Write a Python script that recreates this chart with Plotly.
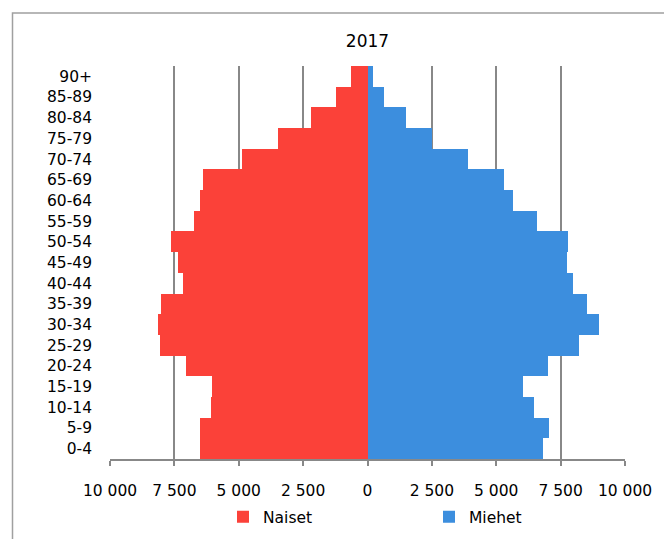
import plotly.graph_objects as go

age_groups = ["0-4", "5-9", "10-14", "15-19", "20-24", "25-29", "30-34", "35-39",
              "40-44", "45-49", "50-54", "55-59", "60-64", "65-69", "70-74",
              "75-79", "80-84", "85-89", "90+"]
naiset = [6500, 6500, 6090, 6030, 7050, 8060, 8120, 8010, 7180, 7350, 7640,
          6750, 6500, 6380, 4870, 3480, 2210, 1240, 640]
miehet = [6820, 7060, 6450, 6040, 7000, 8220, 9000, 8520, 7970, 7740, 7790,
          6570, 5660, 5300, 3910, 2520, 1480, 640, 210]
tick_vals = [-10000, -7500, -5000, -2500, 0, 2500, 5000, 7500, 10000]
tick_text = ["10 000", "7 500", "5 000", "2 500", "0", "2 500", "5 000", "7 500", "10 000"]
title_text = "2017"

FONT = "DejaVu Sans"
RED = "#FB4139"
BLUE = "#3C8EDE"
GRID = "#888888"

fig = go.Figure()
fig.add_trace(go.Bar(y=age_groups, x=[-v for v in naiset], orientation="h",
                     name="Naiset", marker=dict(color=RED, line=dict(width=0))))
fig.add_trace(go.Bar(y=age_groups, x=miehet, orientation="h",
                     name="Miehet", marker=dict(color=BLUE, line=dict(width=0))))

fig.update_layout(
    width=672, height=539,
    margin=dict(l=102, r=55, t=58, b=88),
    paper_bgcolor="white", plot_bgcolor="white",
    barmode="overlay", bargap=0,
    font=dict(family=FONT, size=15.5, color="#000000"),
    title=dict(text=title_text, x=0.5, xanchor="center", xref="paper",
               y=1 - 33 / 539, yanchor="middle", yref="container",
               font=dict(family=FONT, size=17, color="#000000")),
    showlegend=True,
    legend=dict(orientation="h", x=(223 - 110) / 515, xanchor="left", y=-0.148, yanchor="middle",
                entrywidth=161, entrywidthmode="pixels", itemwidth=30,
                font=dict(family=FONT, size=15.5), bgcolor="rgba(0,0,0,0)",
                traceorder="normal"),
    xaxis=dict(range=[-10000, 10000], tickmode="array", tickvals=tick_vals,
               ticktext=tick_text, showgrid=True, gridcolor=GRID, gridwidth=1.5,
               zeroline=True, zerolinecolor=GRID, zerolinewidth=1.5,
               showline=True, linecolor=GRID, linewidth=1.5,
               ticks="outside", ticklen=5, tickcolor=GRID, tickwidth=1.5,
               ticklabelstandoff=12, fixedrange=True),
    yaxis=dict(categoryorder="array", categoryarray=age_groups, showgrid=False,
               zeroline=False, showline=False, ticks="", ticklabelstandoff=17,
               fixedrange=True),
    shapes=[dict(type="rect", xref="paper", yref="paper",
                 x0=(12.5 - 110) / 515, x1=(667.5 - 110) / 515,
                 y0=-(560 - 459) / 393, y1=1 + (66 - 13) / 393,
                 line=dict(color="#A0A0A0", width=1.5), fillcolor="rgba(0,0,0,0)",
                 layer="below")],
)

fig.write_html("out.html")
